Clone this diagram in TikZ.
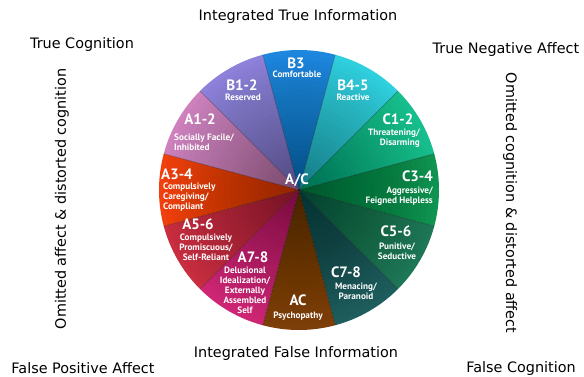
\documentclass[tikz,border=0pt]{standalone}
\usepackage{fontspec}
\setmainfont{DejaVu Sans}
\newfontfamily\lblfont{PT Sans}

% sector colours
\definecolor{cBthree}{HTML}{1E8AE2}
\definecolor{cBfour}{HTML}{30D4E2}
\definecolor{cCone}{HTML}{18C290}
\definecolor{cCthree}{HTML}{109652}
\definecolor{cCfive}{HTML}{1E7858}
\definecolor{cCseven}{HTML}{1F5F5F}
\definecolor{cAC}{HTML}{80400A}
\definecolor{cAseven}{HTML}{D22676}
\definecolor{cAfive}{HTML}{CC2E42}
\definecolor{cAthree}{HTML}{F4420E}
\definecolor{cAone}{HTML}{D284C0}
\definecolor{cBone}{HTML}{9084DE}

\begin{document}
\begin{tikzpicture}[x=1pt,y=1pt,
  code/.style={font=\lblfont\bfseries\fontsize{15}{15}\selectfont, text=white, inner sep=0pt},
  desc/.style={font=\lblfont\bfseries\fontsize{9.2}{10}\selectfont, text=white, inner sep=0pt},
  outer/.style={font=\fontsize{14.4}{14.4}\selectfont, text=black, inner sep=0pt},
  divider/.style={draw=black, draw opacity=0.35, line width=0.6pt},
  hubshade/.style={fill=black, fill opacity=0.016}]
\useasboundingbox (0,0) rectangle (584,377);
\coordinate (O) at (299,187);

% wheel sectors, 30 degrees each
\foreach \a/\c in {75/cBthree, 45/cBfour, 15/cCone, -15/cCthree, -45/cCfive, -75/cCseven,
                   -105/cAC, -135/cAseven, -165/cAfive, 165/cAthree, 135/cAone, 105/cBone}
  \fill[\c] (O) -- ++(\a:140) arc[start angle=\a, delta angle=30, radius=140] -- cycle;
% stacked translucent discs darken the wheel towards its hub
\foreach \k in {1,...,28}
  \path[hubshade] (O) circle[radius=5*\k];
\foreach \a in {15,45,...,345}
  \path[divider] (O) -- ++(\a:140);

% sector labels
\node[code] (b3) at (296,314) {B3};
\node[desc] (b3d) at (297,302.5) {Comfortable};
\node[code] (b12) at (242,292) {B1-2};
\node[desc] (b12d) at (243,279.5) {Reserved};
\node[code] (b45) at (353,292) {B4-5};
\node[desc] (b45d) at (353,279.5) {Reactive};
\node[code] (a12) at (200,257.5) {A1-2};
\node[desc, align=left, anchor=west] (a12d) at (174,235) {Socially Facile/\\Inhibited};
\node[code] (c12) at (398,257.5) {C1-2};
\node[desc, align=right, anchor=east] (c12d) at (420,238.5) {Threatening/\\Disarming};
\node[code] (ac0) at (297,197) {A/C};
\node[code, anchor=west] (a34) at (161,203) {A3-4};
\node[desc, align=left, anchor=west] (a34d) at (163,179.5) {Compulsively\\Caregiving/\\Compliant};
\node[code, anchor=east] (c34) at (433,200.5) {C3-4};
\node[desc, align=right, anchor=east] (c34d) at (433,181) {Aggressive/\\Feigned Helpless};
\node[code] (a56) at (198,152.5) {A5-6};
\node[desc, align=center] (a56d) at (206,130) {Compulsively\\Promiscuous/\\Self-Reliant};
\node[code] (a78) at (253,119.5) {A7-8};
\node[desc, align=center] (a78d) at (245,87) {Delusional\\Idealization/\\Externally\\Assembled\\Self};
\node[code] (acp) at (298,77) {AC};
\node[desc] (acpd) at (298,60.5) {Psychopathy};
\node[code] (c78) at (346,104.5) {C7-8};
\node[desc, align=center] (c78d) at (356,86) {Menacing/\\Paranoid};
\node[code] (c56) at (396,145.5) {C5-6};
\node[desc, align=center] (c56d) at (397,126) {Punitive/\\Seductive};

% surrounding captions
\node[outer] (itop) at (298,360) {Integrated True Information};
\node[outer] (tcog) at (82,332) {True Cognition};
\node[outer] (tneg) at (506,327) {True Negative Affect};
\node[outer, rotate=90] (oleft) at (62,178) {Omitted affect \& distorted cognition};
\node[outer, rotate=-90] (oright) at (510,174) {Omitted cognition \& distorted affect};
\node[outer] (ibot) at (296,23) {Integrated False Information};
\node[outer] (fpos) at (83,8.5) {False Positive Affect};
\node[outer] (fcog) at (521,8.5) {False Cognition};
\end{tikzpicture}
\end{document}
